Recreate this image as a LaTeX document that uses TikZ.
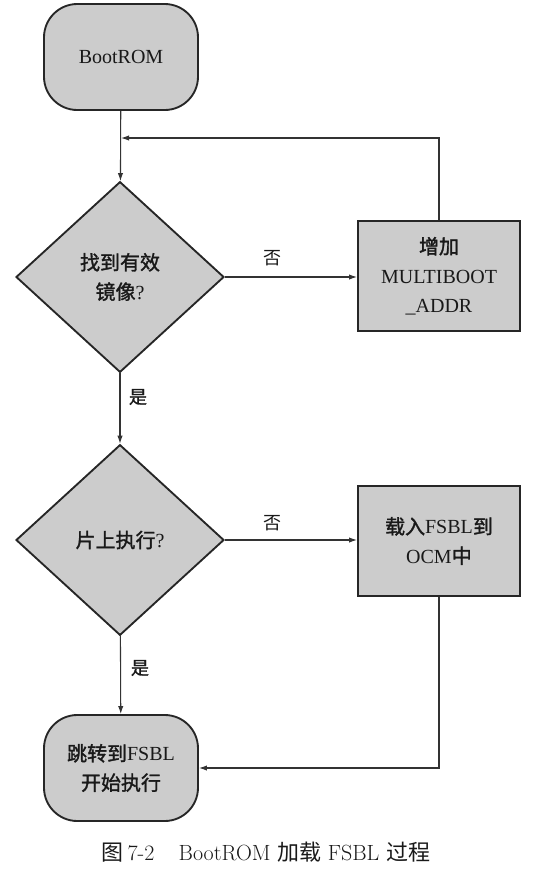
\documentclass[tikz,border=0pt]{standalone}
\usepackage{fontspec}
\setmainfont{Liberation Serif}
\newfontfamily\cjkl{Noto Sans CJK SC}
\newfontfamily\cjk{Noto Sans CJK SC}[FakeBold=1.5]
\newfontfamily\lmr{Latin Modern Roman}
\usetikzlibrary{shapes.geometric,arrows.meta}
\newcommand\mynodefont{\fontsize{15}{22}\selectfont}
\newcommand\mylabfont{\fontsize{13.5}{16}\selectfont}
\newcommand\mycapfont{\fontsize{16.5}{19}\selectfont\lmr}
\begin{document}
\begin{tikzpicture}[x=0.75pt,y=-0.75pt,
  box/.style={draw=black!85, line width=1.4pt, fill=black!20, align=center,
    text=black!90, font=\mynodefont, inner sep=0pt},
  term/.style={box, rounded corners=25pt, minimum width=115.5pt, minimum height=79.5pt},
  proc/.style={box, minimum width=121.5pt, minimum height=83pt},
  dec/.style={box, diamond, minimum width=156pt, minimum height=143pt},
  conn/.style={draw=black!80, line width=0.8pt, -{Latex[length=6pt,width=4pt]}},
  lab/.style={font=\mylabfont, text=black!90}]
\useasboundingbox (0,0) rectangle (533,869);

\node[term] (boot) at (121,57) {BootROM};
\node[dec] (d1) at (120,277) {{\cjk 找到有效}\\{\cjk 镜像}?};
\node[proc] (p1) at (439,276) {{\cjk 增加}\\MULTIBOOT\\\_ADDR};
\node[dec] (d2) at (120,540) {{\cjk 片上执行}?};
\node[proc] (p2) at (439,541) {{\cjk 载入}FSBL{\cjk 到}\\OCM{\cjk 中}};
\node[term] (fin) at (121,768) {{\cjk 跳转到}FSBL\\{\cjk 开始执行}};

\coordinate (fbr) at (p1.north |- 0,138);
\draw[conn] (boot) -- (d1);
\draw[conn] (p1.north) -- (fbr) -- (fbr -| boot.south);
\draw[conn] (d1.east) -- (d1.east -| p1.west);
\draw[conn] (d1) -- (d2);
\draw[conn] (d2.east) -- (d2.east -| p2.west);
\draw[conn] (d2) -- (fin);
\draw[conn] (p2.south) |- (fin.east);

\node[lab] (no1) at (272,258) {\cjkl 否};
\node[lab] (yes1) at (138,397) {\cjk 是};
\node[lab] (no2) at (272,523) {\cjkl 否};
\node[lab] (yes2) at (140,668) {\cjk 是};

\node[font=\mycapfont, text=black!90] (cap) at (266,852)
  {{\cjkl 图}\,7-2\hspace{1.1em}BootROM {\cjkl 加载} FSBL {\cjkl 过程}};
\end{tikzpicture}
\end{document}
